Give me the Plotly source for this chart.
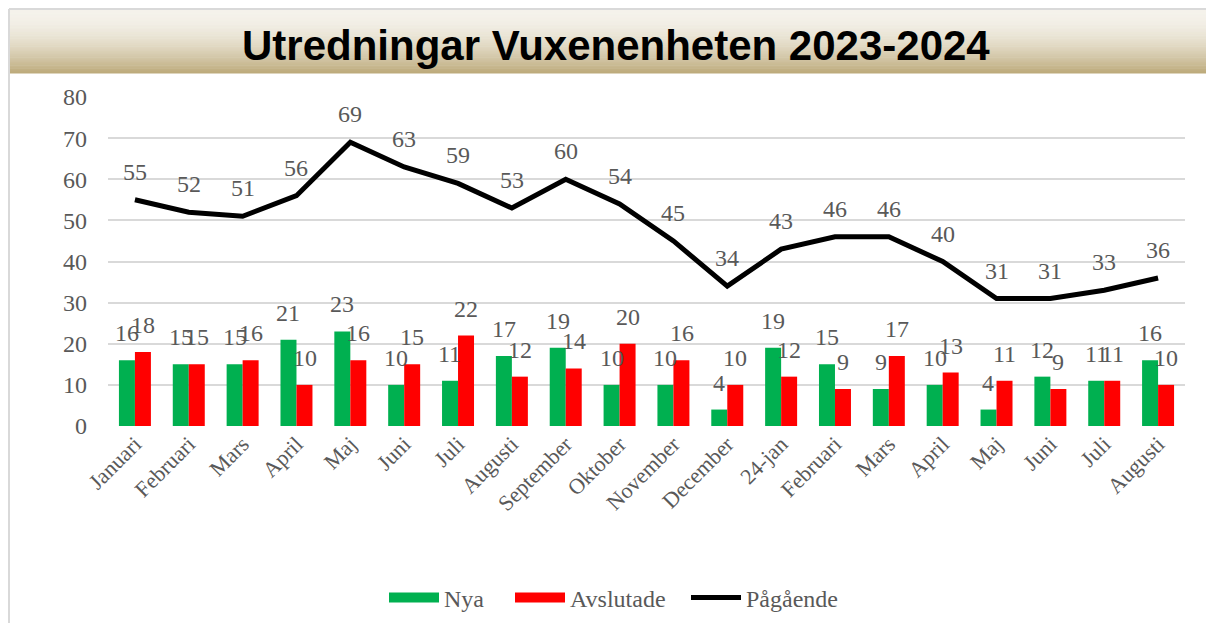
import plotly.graph_objects as go

categories = ["Januari", "Februari", "Mars", "April", "Maj", "Juni", "Juli", "Augusti",
              "September", "Oktober", "November", "December", "24-jan", "Februari", "Mars",
              "April", "Maj", "Juni", "Juli", "Augusti"]
nya = [16, 15, 15, 21, 23, 10, 11, 17, 19, 10, 10, 4, 19, 15, 9, 10, 4, 12, 11, 16]
avslutade = [18, 15, 16, 10, 16, 15, 22, 12, 14, 20, 16, 10, 12, 9, 17, 13, 11, 9, 11, 10]
pagaende = [55, 52, 51, 56, 69, 63, 59, 53, 60, 54, 45, 34, 43, 46, 46, 40, 31, 31, 33, 36]
y_ticks = [0, 10, 20, 30, 40, 50, 60, 70, 80]

# page has an 8px body margin: figure pixel = page pixel - 8
OFF = 8
W, H = 1214 - OFF, 623 - OFF
ML, MT = 108 - OFF, 97 - OFF
MR = W - (1185 - OFF)
MB = H - (426 - OFF)
PW, PH = W - ML - MR, H - MT - MB

def px_x(px):  # page pixel -> paper
    return (px - OFF - ML) / PW

def px_y(py):
    return (H - MB - (py - OFF)) / PH

GREEN = "#00b050"
RED = "#ff0000"
TXT = "#595959"
SERIF = "Liberation Serif, Times New Roman, serif"
FS = 24

x = list(range(len(categories)))

fig = go.Figure()
fig.add_trace(go.Bar(x=x, y=nya, name="Nya", marker_color=GREEN, marker_line_width=0, showlegend=False))
fig.add_trace(go.Bar(x=x, y=avslutade, name="Avslutade", marker_color=RED, marker_line_width=0, showlegend=False))
fig.add_trace(go.Scatter(x=x, y=pagaende, name="Pågående", mode="lines",
                         line=dict(color="black", width=5), showlegend=False))
# legend entries, each in its own legend box
fig.add_trace(go.Scatter(x=[None], y=[None], mode="lines", name="Nya", legend="legend",
                         line=dict(color=GREEN, width=12)))
fig.add_trace(go.Scatter(x=[None], y=[None], mode="lines", name="Avslutade", legend="legend2",
                         line=dict(color=RED, width=12)))
fig.add_trace(go.Scatter(x=[None], y=[None], mode="lines", name="Pågående", legend="legend3",
                         line=dict(color="black", width=5)))

ann = []
off = 0.15
for i, v in enumerate(nya):
    ann.append(dict(x=i - off, y=v, text=str(v), showarrow=False, yanchor="bottom",
                    yshift=12, font=dict(family=SERIF, size=FS, color=TXT)))
for i, v in enumerate(avslutade):
    ann.append(dict(x=i + off, y=v, text=str(v), showarrow=False, yanchor="bottom",
                    yshift=12, font=dict(family=SERIF, size=FS, color=TXT)))
for i, v in enumerate(pagaende):
    ann.append(dict(x=i, y=v, text=str(v), showarrow=False, yanchor="bottom",
                    yshift=13, font=dict(family=SERIF, size=FS, color=TXT)))

# title
ann.append(dict(xref="paper", yref="paper", x=px_x(616), y=px_y(45), text="<b>Utredningar Vuxenenheten 2023-2024</b>",
                showarrow=False, xanchor="center", yanchor="middle",
                font=dict(family="Liberation Sans Narrow, Arial Narrow, Liberation Sans, Arial", size=42, color="black")))

shapes = []
# gradient band
top, bot = 10, 73
n = 40
c1 = (0xf5, 0xf2, 0xeb)
c2 = (0xbd, 0xab, 0x7c)
for k in range(n):
    y0 = top + (bot - top) * k / n
    y1 = top + (bot - top) * (k + 1) / n
    t = k / (n - 1)
    t = t ** 1.8
    col = "rgb(%d,%d,%d)" % tuple(round(c1[j] + (c2[j] - c1[j]) * t) for j in range(3))
    shapes.append(dict(type="rect", xref="paper", yref="paper", x0=px_x(9), x1=px_x(1214),
                       y0=px_y(y1 + 0.5), y1=px_y(y0), fillcolor=col, line_width=0, layer="below"))
# frame lines
shapes.append(dict(type="line", xref="paper", yref="paper", x0=px_x(9), x1=px_x(9),
                   y0=px_y(9), y1=px_y(623), line=dict(color="#d9d9d9", width=2)))
shapes.append(dict(type="line", xref="paper", yref="paper", x0=px_x(9), x1=px_x(1214),
                   y0=px_y(9), y1=px_y(9), line=dict(color="#d9d9d9", width=2)))

def leg(px_left):
    return dict(orientation="h", x=px_x(px_left), xanchor="left",
                y=px_y(598), yanchor="middle", bgcolor="rgba(0,0,0,0)",
                font=dict(family=SERIF, size=FS, color=TXT),
                itemclick=False, itemwidth=50)

fig.update_layout(
    width=W, height=H,
    margin=dict(l=ML, r=MR, t=MT, b=MB, autoexpand=False),
    paper_bgcolor="white", plot_bgcolor="white",
    barmode="group", bargap=0.406, bargroupgap=0,
    showlegend=True,
    legend=leg(384),
    legend2=leg(510),
    legend3=leg(686),
    xaxis=dict(tickmode="array", tickvals=x, ticktext=categories, tickangle=-45,
               range=[-0.5, len(categories) - 0.5], showgrid=False, zeroline=False,
               showline=False, ticks="", automargin=False,
               tickfont=dict(family=SERIF, size=22, color=TXT)),
    yaxis=dict(range=[0, 80], tickvals=y_ticks, showgrid=True, gridcolor="#d9d9d9", gridwidth=2,
               zeroline=False, showline=False, ticks="", ticklabelstandoff=20, automargin=False,
               tickfont=dict(family=SERIF, size=FS, color=TXT)),
    annotations=ann,
    shapes=shapes,
)

fig.write_html("out.html")
